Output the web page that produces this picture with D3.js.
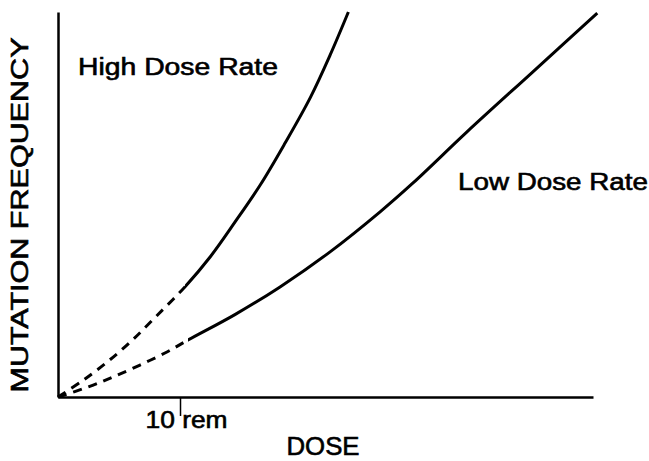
<!DOCTYPE html>
<html>
<head>
<meta charset="utf-8">
<script src="https://cdn.jsdelivr.net/npm/d3@7"></script>
<style>
  body { margin: 0; background: #fff; }
  svg { display: block; }
  text { font-family: "Liberation Sans", Arial, Helvetica, sans-serif; fill: #000; stroke: #000; stroke-width: 0.6px; }
  .axis path, .axis line { stroke: #000; }
</style>
</head>
<body>
<svg width="649" height="461"></svg>
<script>
// dose in rem, mutation frequency in arbitrary units (0..100 = axis height)
let doseTicks = [10];

let highDose = [0, 2, 4, 6, 8, 10.4, 12.5, 14.5, 16.6, 18.6, 20.7, 22.3, 23.8];
let highFreq = [0, 4.2, 9, 14.5, 20.8, 28.6, 36.5, 45.4, 55.2, 65.9, 77.9, 88.8, 100];
let highSolidFrom = 10.4;

let lowDose = [0, 2.46, 4.5, 6.72, 8.93, 10.66, 14.5, 18.2, 22.3, 26.4, 29.1, 33.5, 38.9, 44.2];
let lowFreq = [0, 2.6, 5.2, 8.3, 11.7, 14.8, 21.4, 28.6, 37.7, 48.1, 55.6, 68.8, 84.4, 99.7];
let lowSolidFrom = 10.66;

let svg = d3.select("svg"),
  width = +svg.attr("width"),
  height = +svg.attr("height");

svg.append("rect").attr("width", width).attr("height", height).attr("fill", "#fff");

let x = d3.scaleLinear().domain([0, 43.85]).range([58, 593]);
let y = d3.scaleLinear().domain([0, 100]).range([397, 12]);

// axes
let xAxis = svg.append("g")
  .attr("class", "axis")
  .attr("transform", "translate(0," + y(0) + ")")
  .call(d3.axisBottom(x).tickValues(doseTicks).tickSize(19).tickSizeOuter(0).tickFormat(d => d + " rem"));
xAxis.select(".domain").attr("stroke-width", 2.5);
xAxis.selectAll(".tick line").attr("stroke-width", 1.5);
xAxis.selectAll(".tick text")
  .attr("y", 31)
  .attr("dy", 0)
  .attr("x", 6)
  .attr("font-size", 23)
  .attr("font-family", null)
  .attr("textLength", 82)
  .attr("lengthAdjust", "spacingAndGlyphs");

let yAxis = svg.append("g")
  .attr("class", "axis")
  .attr("transform", "translate(" + x(0) + ",0)")
  .call(d3.axisLeft(y).tickValues([]).tickSizeOuter(0));
yAxis.select(".domain").attr("stroke-width", 2.5);

// axis titles
svg.append("text")
  .attr("x", 323)
  .attr("y", 455)
  .attr("text-anchor", "middle")
  .attr("font-size", 25)
  .attr("textLength", 73)
  .attr("lengthAdjust", "spacingAndGlyphs")
  .text("DOSE");

svg.append("text")
  .attr("transform", "translate(28,215) rotate(-90)")
  .attr("text-anchor", "middle")
  .attr("font-size", 23)
  .attr("textLength", 355)
  .attr("lengthAdjust", "spacingAndGlyphs")
  .text("MUTATION FREQUENCY");

// curves: one smooth path per series, dashed below solidFrom, solid above
let defs = svg.append("defs");
let line = d3.line()
  .x(p => x(p[0]))
  .y(p => y(p[1]))
  .curve(d3.curveCatmullRom.alpha(0.5));

function drawCurve(name, dose, freq, solidFrom) {
  let pts = dose.map((d, i) => [d, freq[i]]);
  let xs = x(solidFrom);
  defs.append("clipPath").attr("id", name + "-dash")
    .append("rect").attr("x", 0).attr("y", 0).attr("width", xs).attr("height", height);
  defs.append("clipPath").attr("id", name + "-solid")
    .append("rect").attr("x", xs).attr("y", 0).attr("width", width - xs).attr("height", height);
  svg.append("path")
    .attr("d", line(pts))
    .attr("clip-path", "url(#" + name + "-dash)")
    .attr("fill", "none")
    .attr("stroke", "#000")
    .attr("stroke-width", 3)
    .attr("stroke-dasharray", "9,7");
  svg.append("path")
    .attr("d", line(pts))
    .attr("clip-path", "url(#" + name + "-solid)")
    .attr("fill", "none")
    .attr("stroke", "#000")
    .attr("stroke-width", 3);
}

drawCurve("high", highDose, highFreq, highSolidFrom);
drawCurve("low", lowDose, lowFreq, lowSolidFrom);

// curve labels
svg.append("text")
  .attr("x", 78)
  .attr("y", 75)
  .attr("font-size", 23)
  .attr("textLength", 200)
  .attr("lengthAdjust", "spacingAndGlyphs")
  .text("High Dose Rate");

svg.append("text")
  .attr("x", 458)
  .attr("y", 190)
  .attr("font-size", 23)
  .attr("textLength", 190)
  .attr("lengthAdjust", "spacingAndGlyphs")
  .text("Low Dose Rate");
</script>
</body>
</html>
